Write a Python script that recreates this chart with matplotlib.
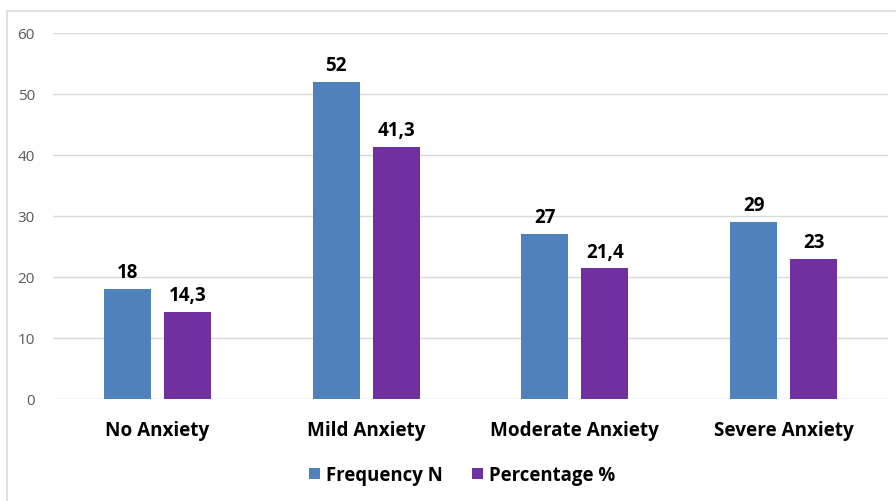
import matplotlib
matplotlib.use("Agg")
import matplotlib.pyplot as plt
from matplotlib.patches import Rectangle
import numpy as np

categories = ["No Anxiety", "Mild Anxiety", "Moderate Anxiety", "Severe Anxiety"]
frequency = [18, 52, 27, 29]
percentage = [14.3, 41.3, 21.4, 23]
freq_labels = ["18", "52", "27", "29"]
pct_labels = ["14,3", "41,3", "21,4", "23"]
series_names = ["Frequency N", "Percentage %"]

plt.rcParams['font.family'] = ['Open Sans', 'DejaVu Sans']

fig = plt.figure(figsize=(8.96, 5.02), dpi=100)
fig.patch.set_facecolor("white")
fig.patches.append(Rectangle((7/896, -0.1), 1.2, (502-12)/502 + 0.1, transform=fig.transFigure,
                             fill=False, edgecolor="#D9D9D9", linewidth=1.2))
ax = fig.add_axes([53/896, 102/502, 835/896, 366/502])

x = np.arange(len(categories))
w = 0.225
off = 0.1437
b1 = ax.bar(x - off, frequency, w, color="#4F81BD", label=series_names[0])
b2 = ax.bar(x + off, percentage, w, color="#7030A0", label=series_names[1])

for bars, labs in ((b1, freq_labels), (b2, pct_labels)):
    for rect, lab in zip(bars, labs):
        ax.annotate(lab, (rect.get_x() + rect.get_width()/2, rect.get_height()),
                    xytext=(0, 5), textcoords="offset points", ha="center", va="bottom",
                    fontsize=13.5, fontweight="bold", color="black")

ax.set_xlim(-0.5, 3.5)
ax.set_ylim(0, 60)
ax.set_yticks(range(0, 61, 10))
ax.yaxis.grid(True, color="#D9D9D9", linewidth=1)
ax.set_axisbelow(True)
for s in ax.spines.values():
    s.set_visible(False)
ax.tick_params(axis="y", length=0, labelsize=11, labelcolor="#595959", pad=13)
ax.tick_params(axis="x", length=0, pad=15)
ax.set_xticks(x)
ax.set_xticklabels(categories, fontsize=13.6, fontweight="bold", color="black")

leg = fig.legend(handles=[b1, b2], labels=series_names, loc="center", bbox_to_anchor=(462/896, 1 - 476/502),
                 ncol=2, frameon=False, fontsize=13.4, handlelength=0.6, handleheight=0.6,
                 columnspacing=1.6, handletextpad=0.3)
for t in leg.get_texts():
    t.set_fontweight("bold")

fig.savefig("out.png", dpi=100)
